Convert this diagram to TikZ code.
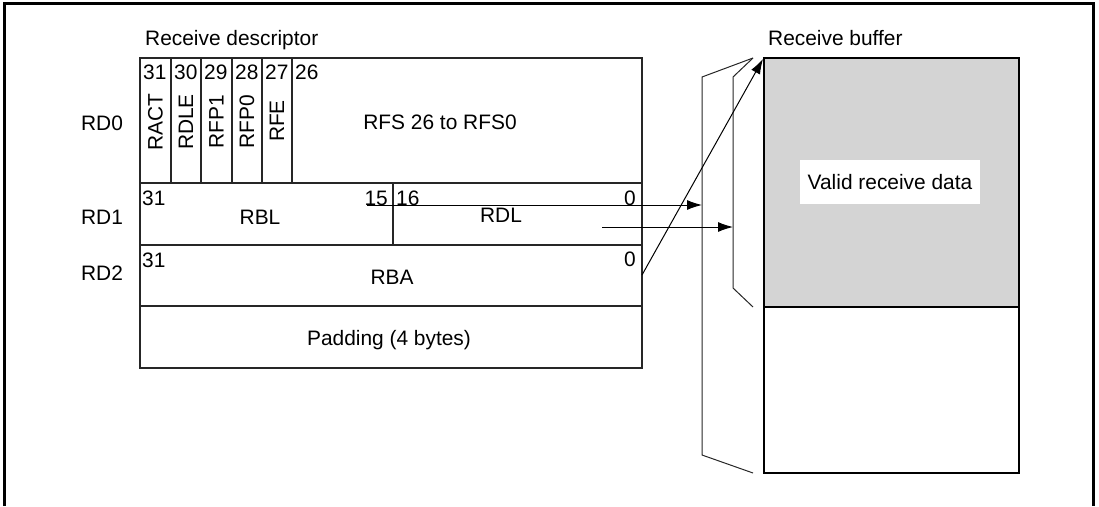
\documentclass[tikz,border=0pt]{standalone}
\usepackage{fontspec}
\setmainfont{Liberation Sans}
\usetikzlibrary{arrows.meta}
\begin{document}
\begin{tikzpicture}[x=1pt,y=-1pt,
  lbl/.style={inner sep=0pt, font=\fontsize{20.9}{24}\selectfont},
  bitnum/.style={lbl, anchor=west},
  rotlbl/.style={lbl, rotate=90},
  thinline/.style={line width=1.1pt, draw=black!85},
  bufline/.style={line width=1.8pt, draw=black},
  brk/.style={line width=1pt, draw=black!85},
  arr/.style={line width=1pt, -{Latex[length=15pt,width=10pt]}},
]
\useasboundingbox (0,0) rectangle (1099,506);
% outer frame
\draw[line width=3pt] (4,506) -- (4,3) -- (1093,3) -- (1093,506);

% titles
\node[lbl, anchor=base west] (tdesc) at (145,45) {Receive descriptor};
\node[lbl, anchor=base west] (tbuf) at (768,45) {Receive buffer};

% descriptor box
\draw[thinline] (140,58) rectangle (642,368);
\draw[thinline] (140,183) -- (642,183);
\draw[thinline] (140,245) -- (642,245);
\draw[thinline] (140,306) -- (642,306);
\foreach \xx in {171,201,232,262,292} \draw[thinline] (\xx,58) -- (\xx,183);
\draw[thinline] (393,183) -- (393,245);

% row labels
\node[lbl] (rd0) at (102,123) {RD0};
\node[lbl] (rd1) at (102,217) {RD1};
\node[lbl] (rd2) at (102,273) {RD2};

% RD0 bits
\node[bitnum] (b31) at (143,72) {31};
\node[bitnum] (b30) at (174,72) {30};
\node[bitnum] (b29) at (204,72) {29};
\node[bitnum] (b28) at (235,72) {28};
\node[bitnum] (b27) at (265,72) {27};
\node[bitnum] (b26) at (295,72) {26};
\node[rotlbl] (ract) at (155.5,122) {RACT};
\node[rotlbl] (rdle) at (186,122) {RDLE};
\node[rotlbl] (rfp1) at (216.5,122) {RFP1};
\node[rotlbl] (rfp0) at (247,122) {RFP0};
\node[rotlbl] (rfe) at (277,121) {RFE};
\node[lbl] (rfs) at (440,122) {RFS 26 to RFS0};

% RD1
\node[bitnum] (c31) at (142,198) {31};
\node[lbl] (rbl) at (260,217) {RBL};
\node[lbl, anchor=east] (c15) at (388,198) {15};
\node[bitnum] (c16) at (396,198) {16};
\node[lbl, anchor=east] (c0) at (636,198) {0};
\node[lbl] (rdl) at (501,215) {RDL};

% RD2
\node[bitnum] (d31) at (142,260) {31};
\node[lbl, anchor=east] (d0) at (636,259) {0};
\node[lbl] (rba) at (392,277) {RBA};

% padding
\node[lbl] (pad) at (389,340) {Padding (4 bytes)};

% receive buffer
\fill[fill={rgb,255:red,212;green,212;blue,212}] (764,58) rectangle (1019,307);
\draw[bufline] (764,58) rectangle (1019,473);
\draw[bufline] (764,307) -- (1019,307);
\node[lbl, fill=white, minimum width=180pt, minimum height=44pt] (valid) at (890,182) {Valid receive data};

% brackets
\draw[brk] (753,58) -- (702,77) -- (702,455) -- (753,473);
\draw[brk] (753,58) -- (733,77) -- (733,288) -- (753,307);

% arrows
\coordinate (a1s) at (367,205);
\coordinate (a1e) at (702,205);
\coordinate (a2s) at (602,227);
\coordinate (a2e) at (733,227);
\coordinate (a3s) at (642,275);
\coordinate (a3e) at (763,59);
\draw[arr] (a1s) -- (a1e);
\draw[arr] (a2s) -- (a2e);
\draw[arr] (a3s) -- (a3e);
\end{tikzpicture}
\end{document}
